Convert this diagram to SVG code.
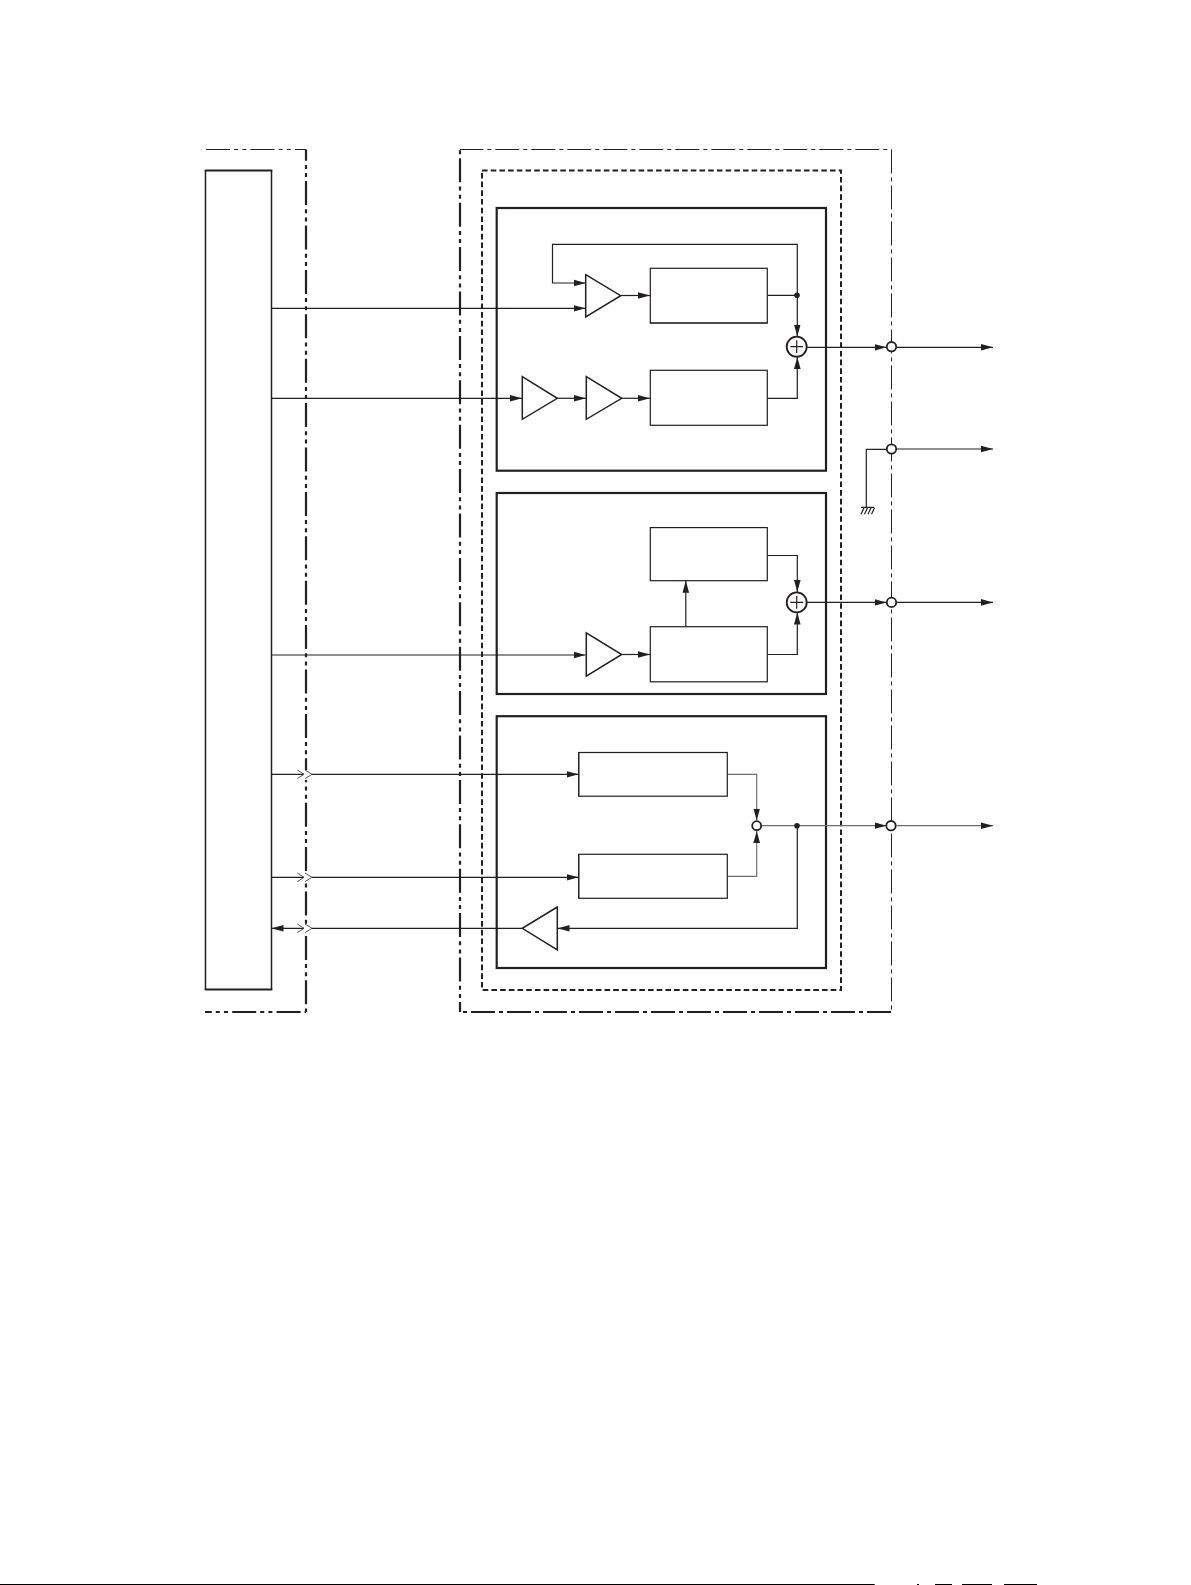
<svg xmlns="http://www.w3.org/2000/svg" width="1191" height="1585" viewBox="0 0 1191 1585">
<style>
.f{fill:none;stroke:#231f20;stroke-dasharray:24 4.200 4 4.200 4 4}
.s{fill:none;stroke:#231f20;stroke-dasharray:24 4 4 4}
.c{fill:none;stroke:#231f20;stroke-width:1.2}
.g{fill:none;stroke:#6d6e71;stroke-width:1.2}
.h{fill:none;stroke:#414042;stroke-width:.9}
.w{fill:#fff}
.b{fill:#fff;stroke:#231f20;stroke-width:1.2}
.t{fill:#fff;stroke:#231f20;stroke-width:1.5}
.n{fill:#fff;stroke:#231f20;stroke-width:1.8}
.k{fill:none;stroke:#231f20;stroke-width:2.200}
.d{fill:#231f20}
</style>
<defs>
<marker id="a" viewBox="0 0 12 8" refX="12" refY="4" markerWidth="12" markerHeight="8" markerUnits="userSpaceOnUse" orient="auto"><path d="M0 .7L12 4L0 7.300z" fill="#231f20"/></marker>
</defs>
<rect width="1191" height="1585" fill="#fff"/>
<g id="frames">
<path class="f" stroke-width="1" d="M206 149.500H306"/>
<path class="f" stroke-width="2.200" stroke-dashoffset="12.800" d="M306 149.500V1012"/>
<path class="f" stroke-width="2" stroke-dashoffset="39" d="M306 1012H205"/>
<path class="s" stroke-width="1" stroke-dashoffset=".7" d="M460 149.500H891.500"/>
<path class="f" stroke-width="2.200" stroke-dashoffset="35.600" d="M460 149.500V1012"/>
<path class="s" stroke-width="2" stroke-dashoffset="25" d="M460 1012H891.500"/>
<path class="s" stroke-width="1" d="M891.500 149.500V1012"/>
<rect x="482" y="170.500" width="359" height="819.500" fill="none" stroke="#231f20" stroke-width="2" stroke-dasharray="5.600 3.100"/>
</g>
<g id="left-block"><path fill="none" stroke="#231f20" stroke-width="1.500" d="M205.500 170.500V989.500M271.500 170.500V989.500"/><path fill="none" stroke="#231f20" stroke-width="2.200" d="M204.700 170.500H272.300M204.700 989.500H272.300"/></g>
<g id="group-1"><rect class="k" x="496.700" y="208" width="329.300" height="262.700"/></g>
<g id="group-2"><rect class="k" x="496.700" y="493" width="329.300" height="201"/></g>
<g id="group-3"><rect class="k" x="496.700" y="716.200" width="329.300" height="251.800"/></g>
<g id="connectors">
<path class="c" d="M271.500 308.300H585.500" marker-end="url(#a)"/>
<path class="c" d="M271.500 398.300H522" marker-end="url(#a)"/>
<path class="c" d="M271.500 655H585.500" marker-end="url(#a)"/>
<path class="w" d="M303 770H310V780H303zM303 873H310V883H303zM303 924H310V934H303z"/>
<path class="c" d="M271.500 774.300H304M312 774.300H578.500" marker-end="url(#a)"/>
<path class="c" d="M271.500 877.300H304M312 877.300H578.500" marker-end="url(#a)"/>
<path class="c" d="M522.300 928.300H312M304 928.300H282"/>
<path class="c" d="M283 928.300H271.500" marker-end="url(#a)"/>
<path class="c" d="M797.300 295.300V244.300H552.500V283H585.500" marker-end="url(#a)"/>
<path class="c" d="M620.700 295.500H650" marker-end="url(#a)"/>
<path class="c" d="M557.300 398.300H586" marker-end="url(#a)"/>
<path class="c" d="M621.700 398.300H650" marker-end="url(#a)"/>
<path class="c" d="M767.300 295.300H797.300V336.500" marker-end="url(#a)"/>
<path class="c" d="M767.300 398.300H797.300V357" marker-end="url(#a)"/>
<path class="c" d="M807 347.300H886.500" marker-end="url(#a)"/>
<path class="c" d="M896.500 347.300H993" marker-end="url(#a)"/>
<path class="c" d="M896.500 449H993" marker-end="url(#a)"/>
<path class="c" d="M887 449.300H866.300V507.300"/>
<path class="c" stroke-width=".8" d="M861 507.300H874M861 514.300L864 507.800M864.500 514.300L867.500 507.800M868 514.300L871 507.800M871.500 514.300L874.500 507.800"/>
<path class="c" d="M767.300 555.500H797.300V592" marker-end="url(#a)"/>
<path class="c" d="M767.300 654.500H797.300V612.500" marker-end="url(#a)"/>
<path class="c" d="M685.800 626.700V580.700" marker-end="url(#a)"/>
<path class="c" d="M621.700 654.500H650" marker-end="url(#a)"/>
<path class="c" d="M807 602.400H886.500" marker-end="url(#a)"/>
<path class="c" d="M896.500 602.400H993" marker-end="url(#a)"/>
<path class="g" d="M727.300 774.300H756.700V820.500" marker-end="url(#a)"/>
<path class="g" d="M727.300 876.300H756.700V831" marker-end="url(#a)"/>
<path class="g" d="M761.500 825.700H886.500" marker-end="url(#a)"/>
<path class="g" d="M896.500 825.700H993" marker-end="url(#a)"/>
<path class="c" d="M797.300 825.700V928.300H557.500" marker-end="url(#a)"/>
<path class="h" d="M297.300 770L304 774.300L297.300 778.600M305 770L312 774.300L305 778.600"/>
<path class="h" d="M297.300 873L304 877.300L297.300 881.600M305 873L312 877.300L305 881.600"/>
<path class="h" d="M297.300 924L304 928.300L297.300 932.600M305 924L312 928.300L305 932.600"/>
</g>
<g id="amp-1"><path class="t" d="M585.700 274.700L620.700 295.700L585.700 317z"/></g>
<g id="amp-2"><path class="t" d="M522.300 376.700L557.300 398.300L522.300 419.300z"/></g>
<g id="amp-3"><path class="t" d="M586.300 376.700L621.700 398.300L586.300 419.300z"/></g>
<g id="amp-4"><path class="t" d="M586.300 632.800L621.700 654.500L586.300 676.200z"/></g>
<g id="amp-5"><path class="t" d="M557.300 907L522.300 928.300L557.300 950z"/></g>
<g id="box-1"><rect class="b" x="650.300" y="268.300" width="117" height="54.700"/><path class="c" stroke-width="1.800" d="M650 323H767.600"/></g>
<g id="box-2"><rect class="b" x="650.300" y="370.300" width="117" height="55"/></g>
<g id="box-3"><rect class="b" x="650.300" y="527.600" width="117" height="53.100"/></g>
<g id="box-4"><rect class="b" x="650.300" y="626.700" width="117" height="55.100"/></g>
<g id="box-5"><rect class="b" x="578.700" y="752.500" width="148.600" height="43.700"/><path class="c" stroke-width="1.800" d="M578.700 752.500V796.200"/></g>
<g id="box-6"><rect class="b" x="578.700" y="854.300" width="148.600" height="44"/><path class="c" stroke-width="1.800" d="M578.700 854.300V898.300"/></g>
<g id="sum-1"><circle class="n" cx="796.700" cy="346.700" r="10"/><path class="c" d="M790.300 346.700H803.100M796.700 340.300V353.100"/></g>
<g id="sum-2"><circle class="n" cx="796.700" cy="602.400" r="10"/><path class="c" d="M790.300 602.400H803.100M796.700 596V608.800"/></g>
<g id="junction-1"><circle class="n" cx="756.700" cy="825.700" r="4.500"/></g>
<g id="dot-1"><circle class="d" cx="797" cy="295.300" r="2.800"/></g>
<g id="dot-2"><circle class="d" cx="797" cy="825.700" r="2.800"/></g>
<g id="port-1"><circle class="n" cx="891.500" cy="346.700" r="4.700"/></g>
<g id="port-2"><circle class="n" cx="891.500" cy="449" r="4.700"/></g>
<g id="port-3"><circle class="n" cx="891.500" cy="602.400" r="4.700"/></g>
<g id="port-4"><circle class="n" cx="891" cy="825.700" r="4.700"/></g>
<g id="footer"><path stroke="#000" stroke-width="1" fill="none" d="M0 1584.500H874.700M917 1584.500H919M935 1584.500H952M962 1584.500H992M1004 1584.500H1037"/></g>
</svg>
